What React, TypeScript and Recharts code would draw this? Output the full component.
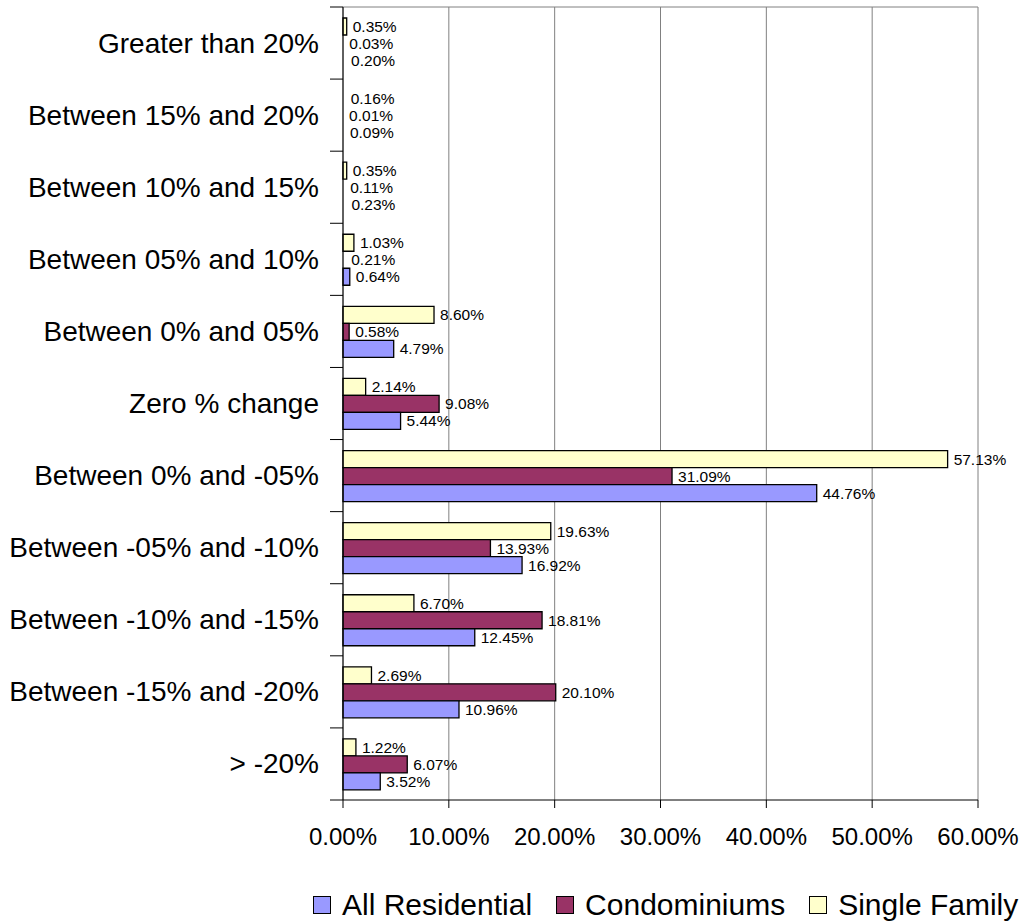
import React from "react";
import { BarChart, Bar, XAxis, YAxis, CartesianGrid, LabelList, Legend, Rectangle } from "recharts";

const categories = [
  "Greater than 20%",
  "Between 15% and 20%",
  "Between 10% and 15%",
  "Between 05% and 10%",
  "Between 0% and 05%",
  "Zero % change",
  "Between 0% and -05%",
  "Between -05% and -10%",
  "Between -10% and -15%",
  "Between -15% and -20%",
  "> -20%",
];

const singleFamily = [0.35, 0.16, 0.35, 1.03, 8.6, 2.14, 57.13, 19.63, 6.7, 2.69, 1.22];
const condominiums = [0.03, 0.01, 0.11, 0.21, 0.58, 9.08, 31.09, 13.93, 18.81, 20.1, 6.07];
const allResidential = [0.2, 0.09, 0.23, 0.64, 4.79, 5.44, 44.76, 16.92, 12.45, 10.96, 3.52];

const xTicks = [0, 10, 20, 30, 40, 50, 60];

const legendItems = [
  { name: "All Residential", color: "#9999ff" },
  { name: "Condominiums", color: "#993366" },
  { name: "Single Family", color: "#ffffcc" },
];

const data = categories.map((name, i) => ({
  name,
  single: singleFamily[i],
  condo: condominiums[i],
  all: allResidential[i],
}));

const FONT = "'Liberation Sans', Arial, sans-serif";
const PLOT_TOP = 7;
const PLOT_BOTTOM = 800;
const AXIS_X = 343;
const STEP = (PLOT_BOTTOM - PLOT_TOP) / categories.length;

const pct = (v: any) => `${Number(v).toFixed(2)}%`;

// very thin bars vanish in the original, so skip them
const ThinBar = (props: any) => {
  if (!props.width || props.width < 3) return null;
  return <Rectangle {...props} />;
};

const CategoryTick = (props: any) => {
  const { y, payload, index } = props;
  const top = y - STEP / 2;
  const bottom = y + STEP / 2;
  return (
    <g>
      <line x1={AXIS_X - 13} x2={AXIS_X} y1={top} y2={top} stroke="#000" />
      {index === categories.length - 1 && (
        <line x1={AXIS_X - 13} x2={AXIS_X} y1={bottom} y2={bottom} stroke="#000" />
      )}
      <text x={AXIS_X - 24} y={y} textAnchor="end" dominantBaseline="central" fontSize={28} fontFamily={FONT} fill="#000">
        {payload.value}
      </text>
    </g>
  );
};

const renderLegend = () => (
  <div style={{ height: 50, width: 1023, display: "flex", alignItems: "center", paddingLeft: 313, paddingTop: 18, boxSizing: "border-box", fontFamily: FONT, fontSize: 30, color: "#000", whiteSpace: "nowrap" }}>
    {legendItems.map((it) => (
      <div key={it.name} style={{ display: "flex", alignItems: "center", marginRight: 24 }}>
        <span style={{ display: "inline-block", width: 16, height: 16, background: it.color, border: "1.5px solid #000", marginRight: 11 }} />
        <span>{it.name}</span>
      </div>
    ))}
  </div>
);

export default function App() {
  return (
    <div style={{ position: "absolute", left: 0, top: 0, background: "#fff" }}>
      <BarChart
        width={1023}
        height={921}
        data={data}
        layout="vertical"
        margin={{ top: PLOT_TOP, right: 45, bottom: 0, left: 0 }}
        barSize={17}
        barGap={0}
      >
        <CartesianGrid stroke="#808080" horizontalPoints={[PLOT_TOP]} />
        <XAxis
          type="number"
          domain={[0, 60]}
          ticks={xTicks}
          tickFormatter={pct}
          height={71}
          tickSize={8}
          tickMargin={20}
          stroke="#000"
          tick={{ fill: "#000", fontSize: 24, fontFamily: FONT }}
          interval={0}
        />
        <YAxis
          type="category"
          dataKey="name"
          width={AXIS_X}
          tickLine={false}
          stroke="#000"
          tick={<CategoryTick />}
          interval={0}
        />
        <Legend verticalAlign="bottom" height={50} wrapperStyle={{ left: 0, width: 1023 }} content={renderLegend} />
        <Bar dataKey="single" name="Single Family" fill="#ffffcc" stroke="#000" strokeWidth={1.3} shape={<ThinBar />} isAnimationActive={false}>
          <LabelList dataKey="single" position="right" offset={6} formatter={pct} fontSize={15.5} fontFamily={FONT} fill="#000" />
        </Bar>
        <Bar dataKey="condo" name="Condominiums" fill="#993366" stroke="#000" strokeWidth={1.3} shape={<ThinBar />} isAnimationActive={false}>
          <LabelList dataKey="condo" position="right" offset={6} formatter={pct} fontSize={15.5} fontFamily={FONT} fill="#000" />
        </Bar>
        <Bar dataKey="all" name="All Residential" fill="#9999ff" stroke="#000" strokeWidth={1.3} shape={<ThinBar />} isAnimationActive={false}>
          <LabelList dataKey="all" position="right" offset={6} formatter={pct} fontSize={15.5} fontFamily={FONT} fill="#000" />
        </Bar>
      </BarChart>
    </div>
  );
}
